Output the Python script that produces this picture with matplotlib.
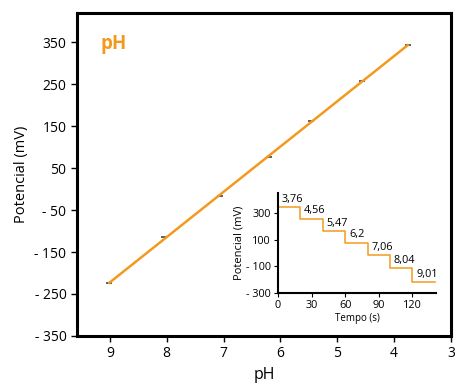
import numpy as np
import matplotlib.pyplot as plt

plt.rcParams['font.family'] = ['Open Sans', 'DejaVu Sans']

# calibration points
ph = [9.01, 8.04, 7.06, 6.2, 5.47, 4.56, 3.76]
pot = [-223, -115, -17, 76, 163, 257, 344]

# step response (inset)
t_start = [0, 20, 40, 60, 80, 100, 120]
t_end = 140
step_pot = [344, 257, 163, 76, -17, -115, -223]
step_lbl = ['3,76', '4,56', '5,47', '6,2', '7,06', '8,04', '9,01']

yticks = [-350, -250, -150, -50, 50, 150, 250, 350]
ytick_lbl = ['- 350', '- 250', '- 150', '- 50', '50', '150', '250', '350']
xticks = [9, 8, 7, 6, 5, 4, 3]

in_yticks = [-300, -100, 100, 300]
in_ytick_lbl = ['- 300', '- 100', '100', '300']
in_xticks = [0, 30, 60, 90, 120]

orange = '#F39A1E'

fig = plt.figure(figsize=(4.55, 3.87), dpi=100)
ax = fig.add_axes([0.169, 0.132, 0.822, 0.834])

ax.plot(ph, pot, linestyle='none', marker='_', color='#444444', ms=5, mew=1.2)
fit = np.polyfit(ph, pot, 1)
xf = np.array([max(ph), min(ph)])
ax.plot(xf, np.polyval(fit, xf), color=orange, lw=1.8)

ax.set_xlim(9.58, 3)
ax.set_ylim(-350, 420)
ax.set_yticks(yticks)
ax.set_yticklabels(ytick_lbl)
ax.set_xticks(xticks)
ax.tick_params(labelsize=10, width=1, length=4)
for s in ax.spines.values():
    s.set_linewidth(2.2)
ax.set_xlabel('pH', fontsize=11.5)
ax.set_ylabel('Potencial (mV)', fontsize=10.5)
ax.text(0.064, 0.904, 'pH', transform=ax.transAxes, color=orange,
        fontsize=13.5, fontweight='bold', va='center')

ins = fig.add_axes([0.611, 0.2437, 0.347, 0.257])
xs = t_start + [t_end]
ys = step_pot + [step_pot[-1]]
ins.step(xs, ys, where='post', color=orange, lw=1.1)
for t, v, l in zip(t_start, step_pot, step_lbl):
    ins.text(t + 3.3, v + 20, l, fontsize=7.8, ha='left', va='bottom')
ins.set_xlim(0, 141)
ins.set_ylim(-300, 450)
ins.set_xticks(in_xticks)
ins.set_yticks(in_yticks)
ins.set_yticklabels(in_ytick_lbl)
ins.spines['top'].set_visible(False)
ins.spines['right'].set_visible(False)
ins.spines['left'].set_linewidth(1.5)
ins.spines['bottom'].set_linewidth(1.5)
ins.tick_params(labelsize=7.8, length=3, width=0.8, pad=2)
ins.set_xlabel('Tempo (s)', fontsize=7, labelpad=2)
ins.set_ylabel('Potencial (mV)', fontsize=8, labelpad=1)

fig.savefig('out.png', dpi=100)
